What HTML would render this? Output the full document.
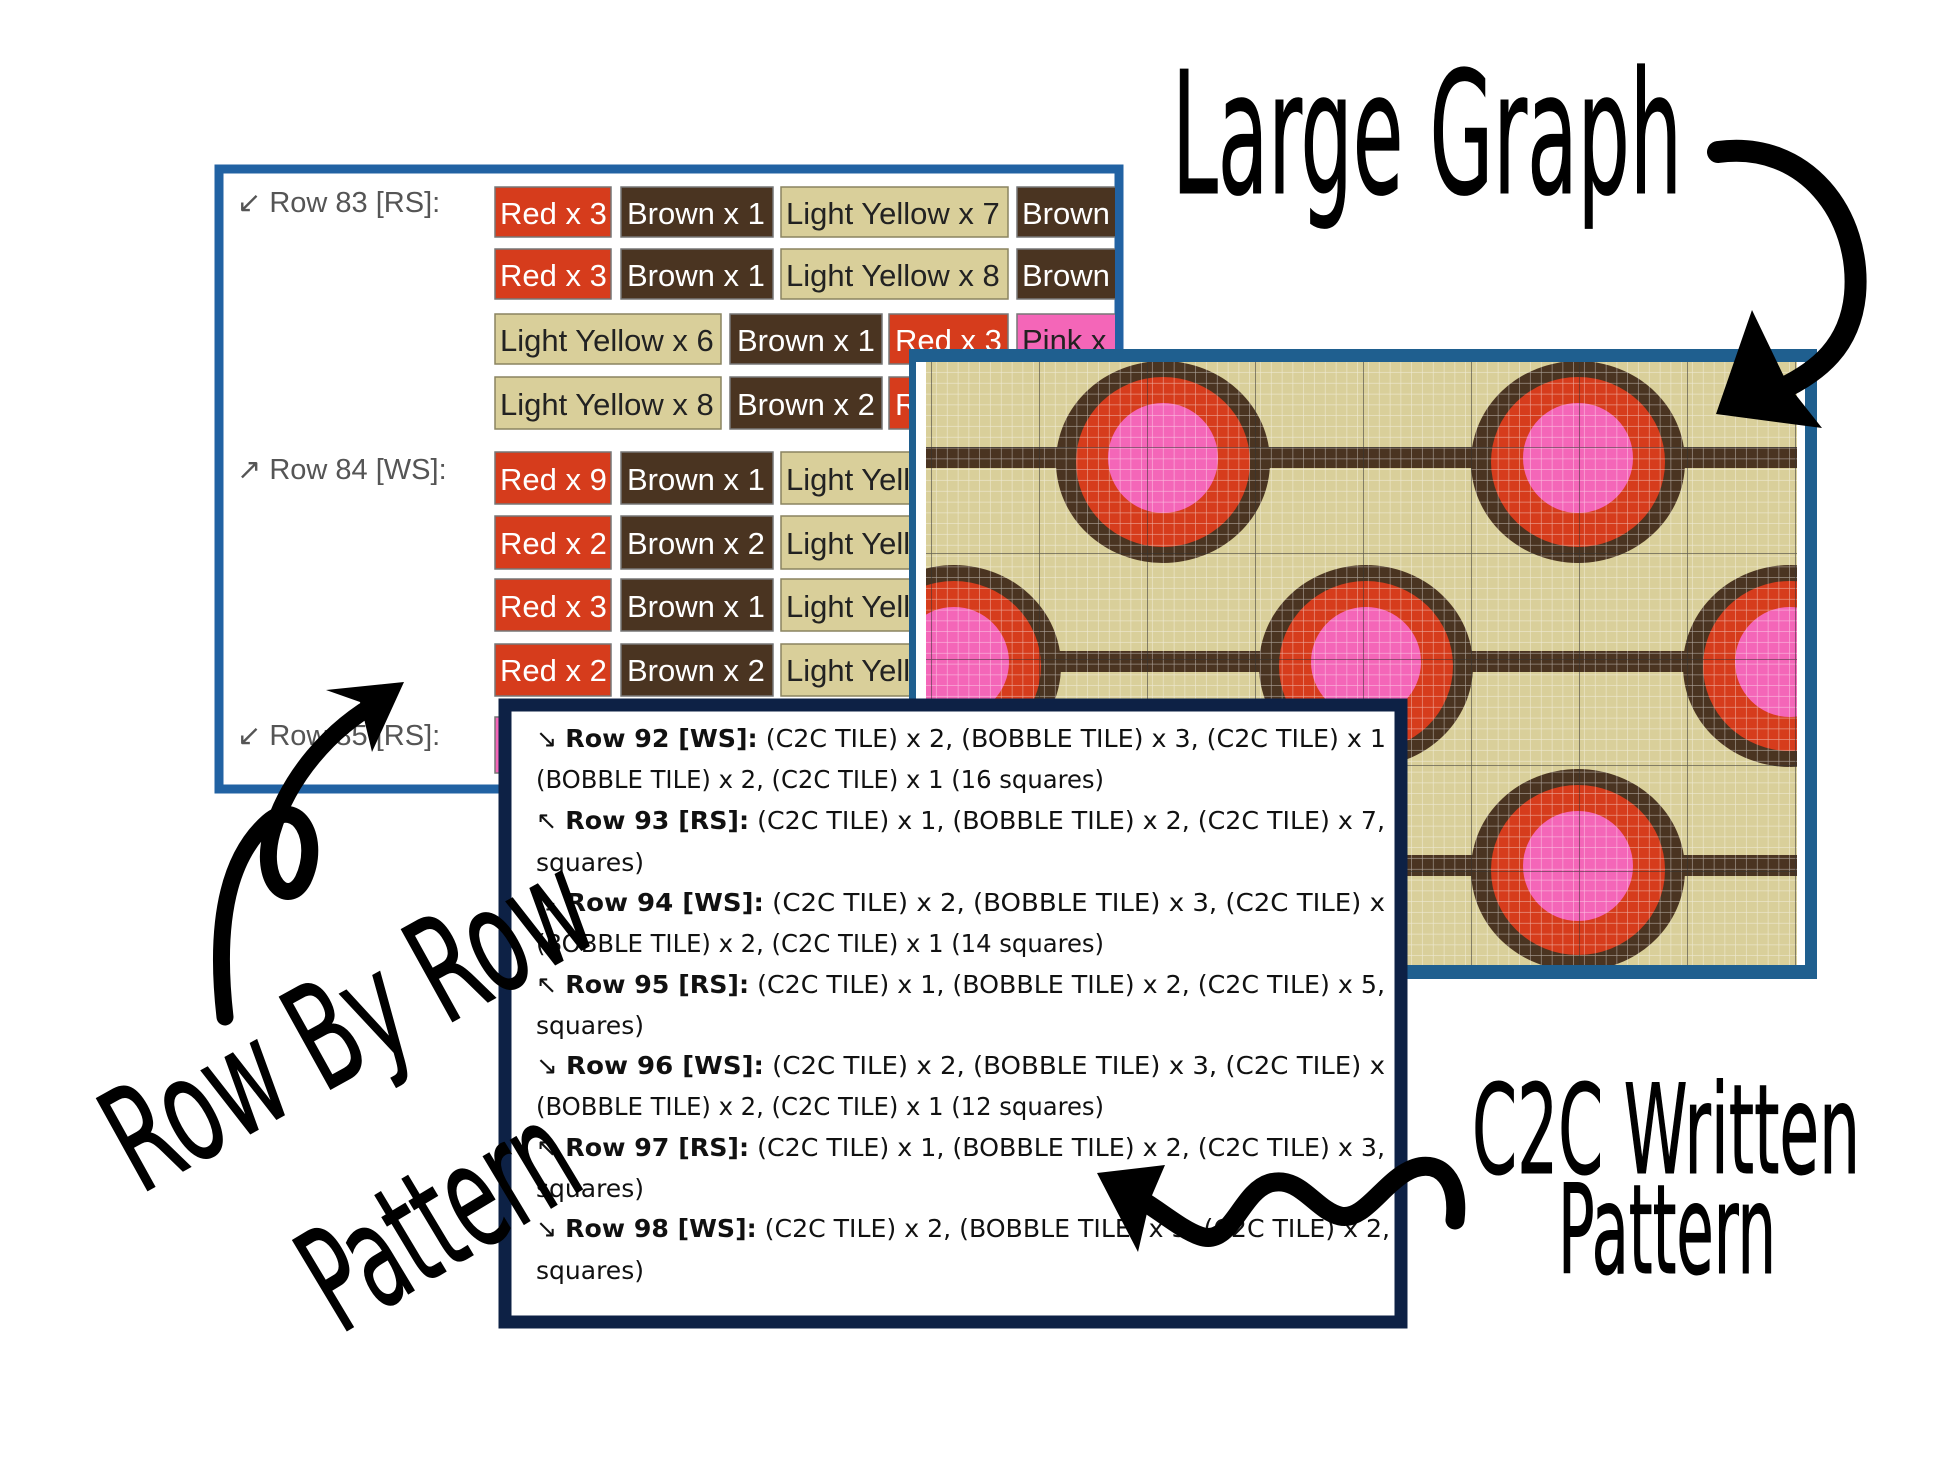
<!DOCTYPE html>
<html><head><meta charset="utf-8"><style>
html,body{margin:0;padding:0;background:#fff;}
svg{display:block;}
.cell{font-family:"Liberation Sans",sans-serif;font-size:31px;}
.lbl{font-family:"Liberation Sans",sans-serif;font-size:29px;fill:#555;}
.wt{font-family:"DejaVu Sans Condensed","DejaVu Sans",sans-serif;font-size:25px;fill:#111;}
.hw{font-family:"DejaVu Sans Condensed","DejaVu Sans",sans-serif;font-weight:200;fill:#000;stroke:#000;stroke-width:1;}
</style></head><body>
<svg width="1946" height="1460" viewBox="0 0 1946 1460" xmlns="http://www.w3.org/2000/svg">
<defs>
<pattern id="minor" x="926" y="362" width="10.8" height="10.8" patternUnits="userSpaceOnUse">
<path d="M10.8 0V10.8M0 10.8H10.8" stroke="#fff" stroke-opacity="0.55" stroke-width="1.2" fill="none"/>
</pattern>
<pattern id="major" x="1039" y="447" width="108" height="106" patternUnits="userSpaceOnUse">
<path d="M0 0V106M0 0H108" stroke="#333" stroke-opacity="0.7" stroke-width="1.5" fill="none"/>
</pattern>
<clipPath id="gclip"><rect x="926" y="362" width="871" height="603"/></clipPath>
<clipPath id="p1clip"><rect x="223" y="173" width="892" height="612"/></clipPath>
<g id="circ">
<ellipse cx="0" cy="0" rx="107" ry="101" fill="#4a3421"/>
<ellipse cx="0" cy="0" rx="87" ry="85" fill="#d63c1c"/>
<ellipse cx="0" cy="-4" rx="55" ry="55" fill="#f466b8"/>
</g>
</defs>

<rect x="219" y="169" width="900" height="620" fill="#fff" stroke="#2162a3" stroke-width="9"/>
<g clip-path="url(#p1clip)">
<text class="lbl" x="237" y="212">↙ Row 83 [RS]:</text>
<text class="lbl" x="237" y="479">↗ Row 84 [WS]:</text>
<text class="lbl" x="237" y="745">↙ Row 85 [RS]:</text>
<g class="cell" stroke="#777" stroke-width="1.5">
<rect x="495" y="187" width="116" height="50" fill="#d63c1c"/><rect x="621" y="187" width="152" height="50" fill="#4a3421"/><rect x="781" y="187" width="227" height="50" fill="#d9cf9a" stroke="#8a8460"/><rect x="1017" y="187" width="110" height="50" fill="#4a3421"/>
<rect x="495" y="249" width="116" height="50" fill="#d63c1c"/><rect x="621" y="249" width="152" height="50" fill="#4a3421"/><rect x="781" y="249" width="227" height="50" fill="#d9cf9a" stroke="#8a8460"/><rect x="1017" y="249" width="110" height="50" fill="#4a3421"/>
<rect x="495" y="314" width="226" height="50" fill="#d9cf9a" stroke="#8a8460"/><rect x="730" y="314" width="152" height="50" fill="#4a3421"/><rect x="889" y="314" width="119" height="50" fill="#d63c1c"/><rect x="1017" y="314" width="110" height="50" fill="#f466b8"/>
<rect x="495" y="377" width="226" height="52" fill="#d9cf9a" stroke="#8a8460"/><rect x="730" y="377" width="152" height="52" fill="#4a3421"/><rect x="889" y="377" width="119" height="52" fill="#d63c1c"/>
<rect x="495" y="452" width="116" height="52" fill="#d63c1c"/><rect x="621" y="452" width="152" height="52" fill="#4a3421"/><rect x="781" y="452" width="227" height="52" fill="#d9cf9a" stroke="#8a8460"/>
<rect x="495" y="516" width="116" height="53" fill="#d63c1c"/><rect x="621" y="516" width="152" height="53" fill="#4a3421"/><rect x="781" y="516" width="227" height="53" fill="#d9cf9a" stroke="#8a8460"/>
<rect x="495" y="579" width="116" height="52" fill="#d63c1c"/><rect x="621" y="579" width="152" height="52" fill="#4a3421"/><rect x="781" y="579" width="227" height="52" fill="#d9cf9a" stroke="#8a8460"/>
<rect x="495" y="644" width="116" height="52" fill="#d63c1c"/><rect x="621" y="644" width="152" height="52" fill="#4a3421"/><rect x="781" y="644" width="227" height="52" fill="#d9cf9a" stroke="#8a8460"/>
<rect x="495" y="717" width="116" height="56" fill="#f466b8"/>
</g>
<g class="cell">
<g fill="#fff">
<text x="500" y="224">Red x 3</text><text x="627" y="224">Brown x 1</text><text x="1022" y="224">Brown</text>
<text x="500" y="286">Red x 3</text><text x="627" y="286">Brown x 1</text><text x="1022" y="286">Brown</text>
<text x="737" y="351">Brown x 1</text><text x="895" y="351">Red x 3</text>
<text x="737" y="415">Brown x 2</text><text x="895" y="415">R</text>
<text x="500" y="490">Red x 9</text><text x="627" y="490">Brown x 1</text>
<text x="500" y="554">Red x 2</text><text x="627" y="554">Brown x 2</text>
<text x="500" y="617">Red x 3</text><text x="627" y="617">Brown x 1</text>
<text x="500" y="681">Red x 2</text><text x="627" y="681">Brown x 2</text>
</g>
<g fill="#222">
<text x="786" y="224">Light Yellow x 7</text><text x="786" y="286">Light Yellow x 8</text>
<text x="500" y="351">Light Yellow x 6</text><text x="500" y="415">Light Yellow x 8</text>
<text x="1022" y="351">Pink x</text>
<text x="786" y="490">Light Yellow</text><text x="786" y="554">Light Yellow</text><text x="786" y="617">Light Yellow</text><text x="786" y="681">Light Yellow</text>
</g>
</g>
</g>

<rect x="909" y="349" width="908" height="630" fill="#1f5f8f"/>
<rect x="916" y="362" width="10" height="603" fill="#fff"/>
<rect x="1797" y="362" width="8" height="603" fill="#fff"/>
<g clip-path="url(#gclip)">
<rect x="926" y="362" width="871" height="603" fill="#d9cf9a"/>
<rect x="926" y="447" width="871" height="21" fill="#4a3421"/>
<rect x="926" y="651" width="871" height="21" fill="#4a3421"/>
<rect x="926" y="855" width="871" height="21" fill="#4a3421"/>
<use href="#circ" x="1163" y="462"/>
<use href="#circ" x="1578" y="462"/>
<use href="#circ" x="954" y="666"/>
<use href="#circ" x="1366" y="666"/>
<use href="#circ" x="1790" y="666"/>
<use href="#circ" x="1578" y="870"/>
<rect x="926" y="362" width="871" height="603" fill="url(#minor)"/>
<rect x="926" y="362" width="871" height="603" fill="url(#major)"/>
</g>

<rect x="505" y="705" width="896" height="617" fill="#fff" stroke="#0d2145" stroke-width="13"/>
<g class="wt">
<text x="536" y="747" textLength="850" lengthAdjust="spacingAndGlyphs">↘ <tspan font-weight="bold">Row 92 [WS]:</tspan> (C2C TILE) x 2, (BOBBLE TILE) x 3, (C2C TILE) x 1</text>
<text x="536" y="788" textLength="568" lengthAdjust="spacingAndGlyphs">(BOBBLE TILE) x 2, (C2C TILE) x 1 (16 squares)</text>
<text x="536" y="829" textLength="849" lengthAdjust="spacingAndGlyphs">↖ <tspan font-weight="bold">Row 93 [RS]:</tspan> (C2C TILE) x 1, (BOBBLE TILE) x 2, (C2C TILE) x 7,</text>
<text x="536" y="871" textLength="108" lengthAdjust="spacingAndGlyphs">squares)</text>
<text x="536" y="911" textLength="849" lengthAdjust="spacingAndGlyphs">↘ <tspan font-weight="bold">Row 94 [WS]:</tspan> (C2C TILE) x 2, (BOBBLE TILE) x 3, (C2C TILE) x</text>
<text x="536" y="952" textLength="568" lengthAdjust="spacingAndGlyphs">(BOBBLE TILE) x 2, (C2C TILE) x 1 (14 squares)</text>
<text x="536" y="993" textLength="849" lengthAdjust="spacingAndGlyphs">↖ <tspan font-weight="bold">Row 95 [RS]:</tspan> (C2C TILE) x 1, (BOBBLE TILE) x 2, (C2C TILE) x 5,</text>
<text x="536" y="1034" textLength="108" lengthAdjust="spacingAndGlyphs">squares)</text>
<text x="536" y="1074" textLength="849" lengthAdjust="spacingAndGlyphs">↘ <tspan font-weight="bold">Row 96 [WS]:</tspan> (C2C TILE) x 2, (BOBBLE TILE) x 3, (C2C TILE) x</text>
<text x="536" y="1115" textLength="568" lengthAdjust="spacingAndGlyphs">(BOBBLE TILE) x 2, (C2C TILE) x 1 (12 squares)</text>
<text x="536" y="1156" textLength="849" lengthAdjust="spacingAndGlyphs">↖ <tspan font-weight="bold">Row 97 [RS]:</tspan> (C2C TILE) x 1, (BOBBLE TILE) x 2, (C2C TILE) x 3,</text>
<text x="536" y="1197" textLength="108" lengthAdjust="spacingAndGlyphs">squares)</text>
<text x="536" y="1237" textLength="854" lengthAdjust="spacingAndGlyphs">↘ <tspan font-weight="bold">Row 98 [WS]:</tspan> (C2C TILE) x 2, (BOBBLE TILE) x 3, (C2C TILE) x 2,</text>
<text x="536" y="1279" textLength="108" lengthAdjust="spacingAndGlyphs">squares)</text>
</g>

<text class="hw" x="1172" y="193" font-size="170" textLength="510" lengthAdjust="spacingAndGlyphs">Large Graph</text>
<text class="hw" x="1472" y="1173" font-size="124" textLength="388" lengthAdjust="spacingAndGlyphs">C2C Written</text>
<text class="hw" x="1558" y="1273" font-size="124" textLength="218" lengthAdjust="spacingAndGlyphs">Pattern</text>
<text class="hw" transform="translate(140,1195) rotate(-29)" font-size="145" textLength="530" lengthAdjust="spacingAndGlyphs">Row By Row</text>
<text class="hw" transform="translate(340,1335) rotate(-31)" font-size="145" textLength="290" lengthAdjust="spacingAndGlyphs">Pattern</text>

<g fill="none" stroke="#000" stroke-linecap="round" stroke-linejoin="round">
<path d="M1718,152 C1805,140 1862,215 1855,295 C1850,345 1820,372 1775,392" stroke-width="22"/>
<path d="M225,1017 C215,930 225,860 268,822 C298,796 322,840 303,880 C288,908 258,882 272,832 C288,778 330,728 382,700" stroke-width="17"/>
<path d="M1455,1220 C1460,1180 1440,1160 1415,1168 C1385,1178 1365,1222 1340,1216 C1315,1210 1300,1175 1270,1183 C1240,1192 1232,1247 1200,1236 C1180,1229 1160,1210 1130,1193" stroke-width="19"/>
</g>
<g fill="#000">
<polygon points="1716,414 1752,310 1788,385 1822,428"/>
<polygon points="404,682 326,690 360,702 372,752"/>
<polygon points="1097,1173 1165,1165 1150,1200 1138,1252"/>
</g>
</svg>
</body></html>
